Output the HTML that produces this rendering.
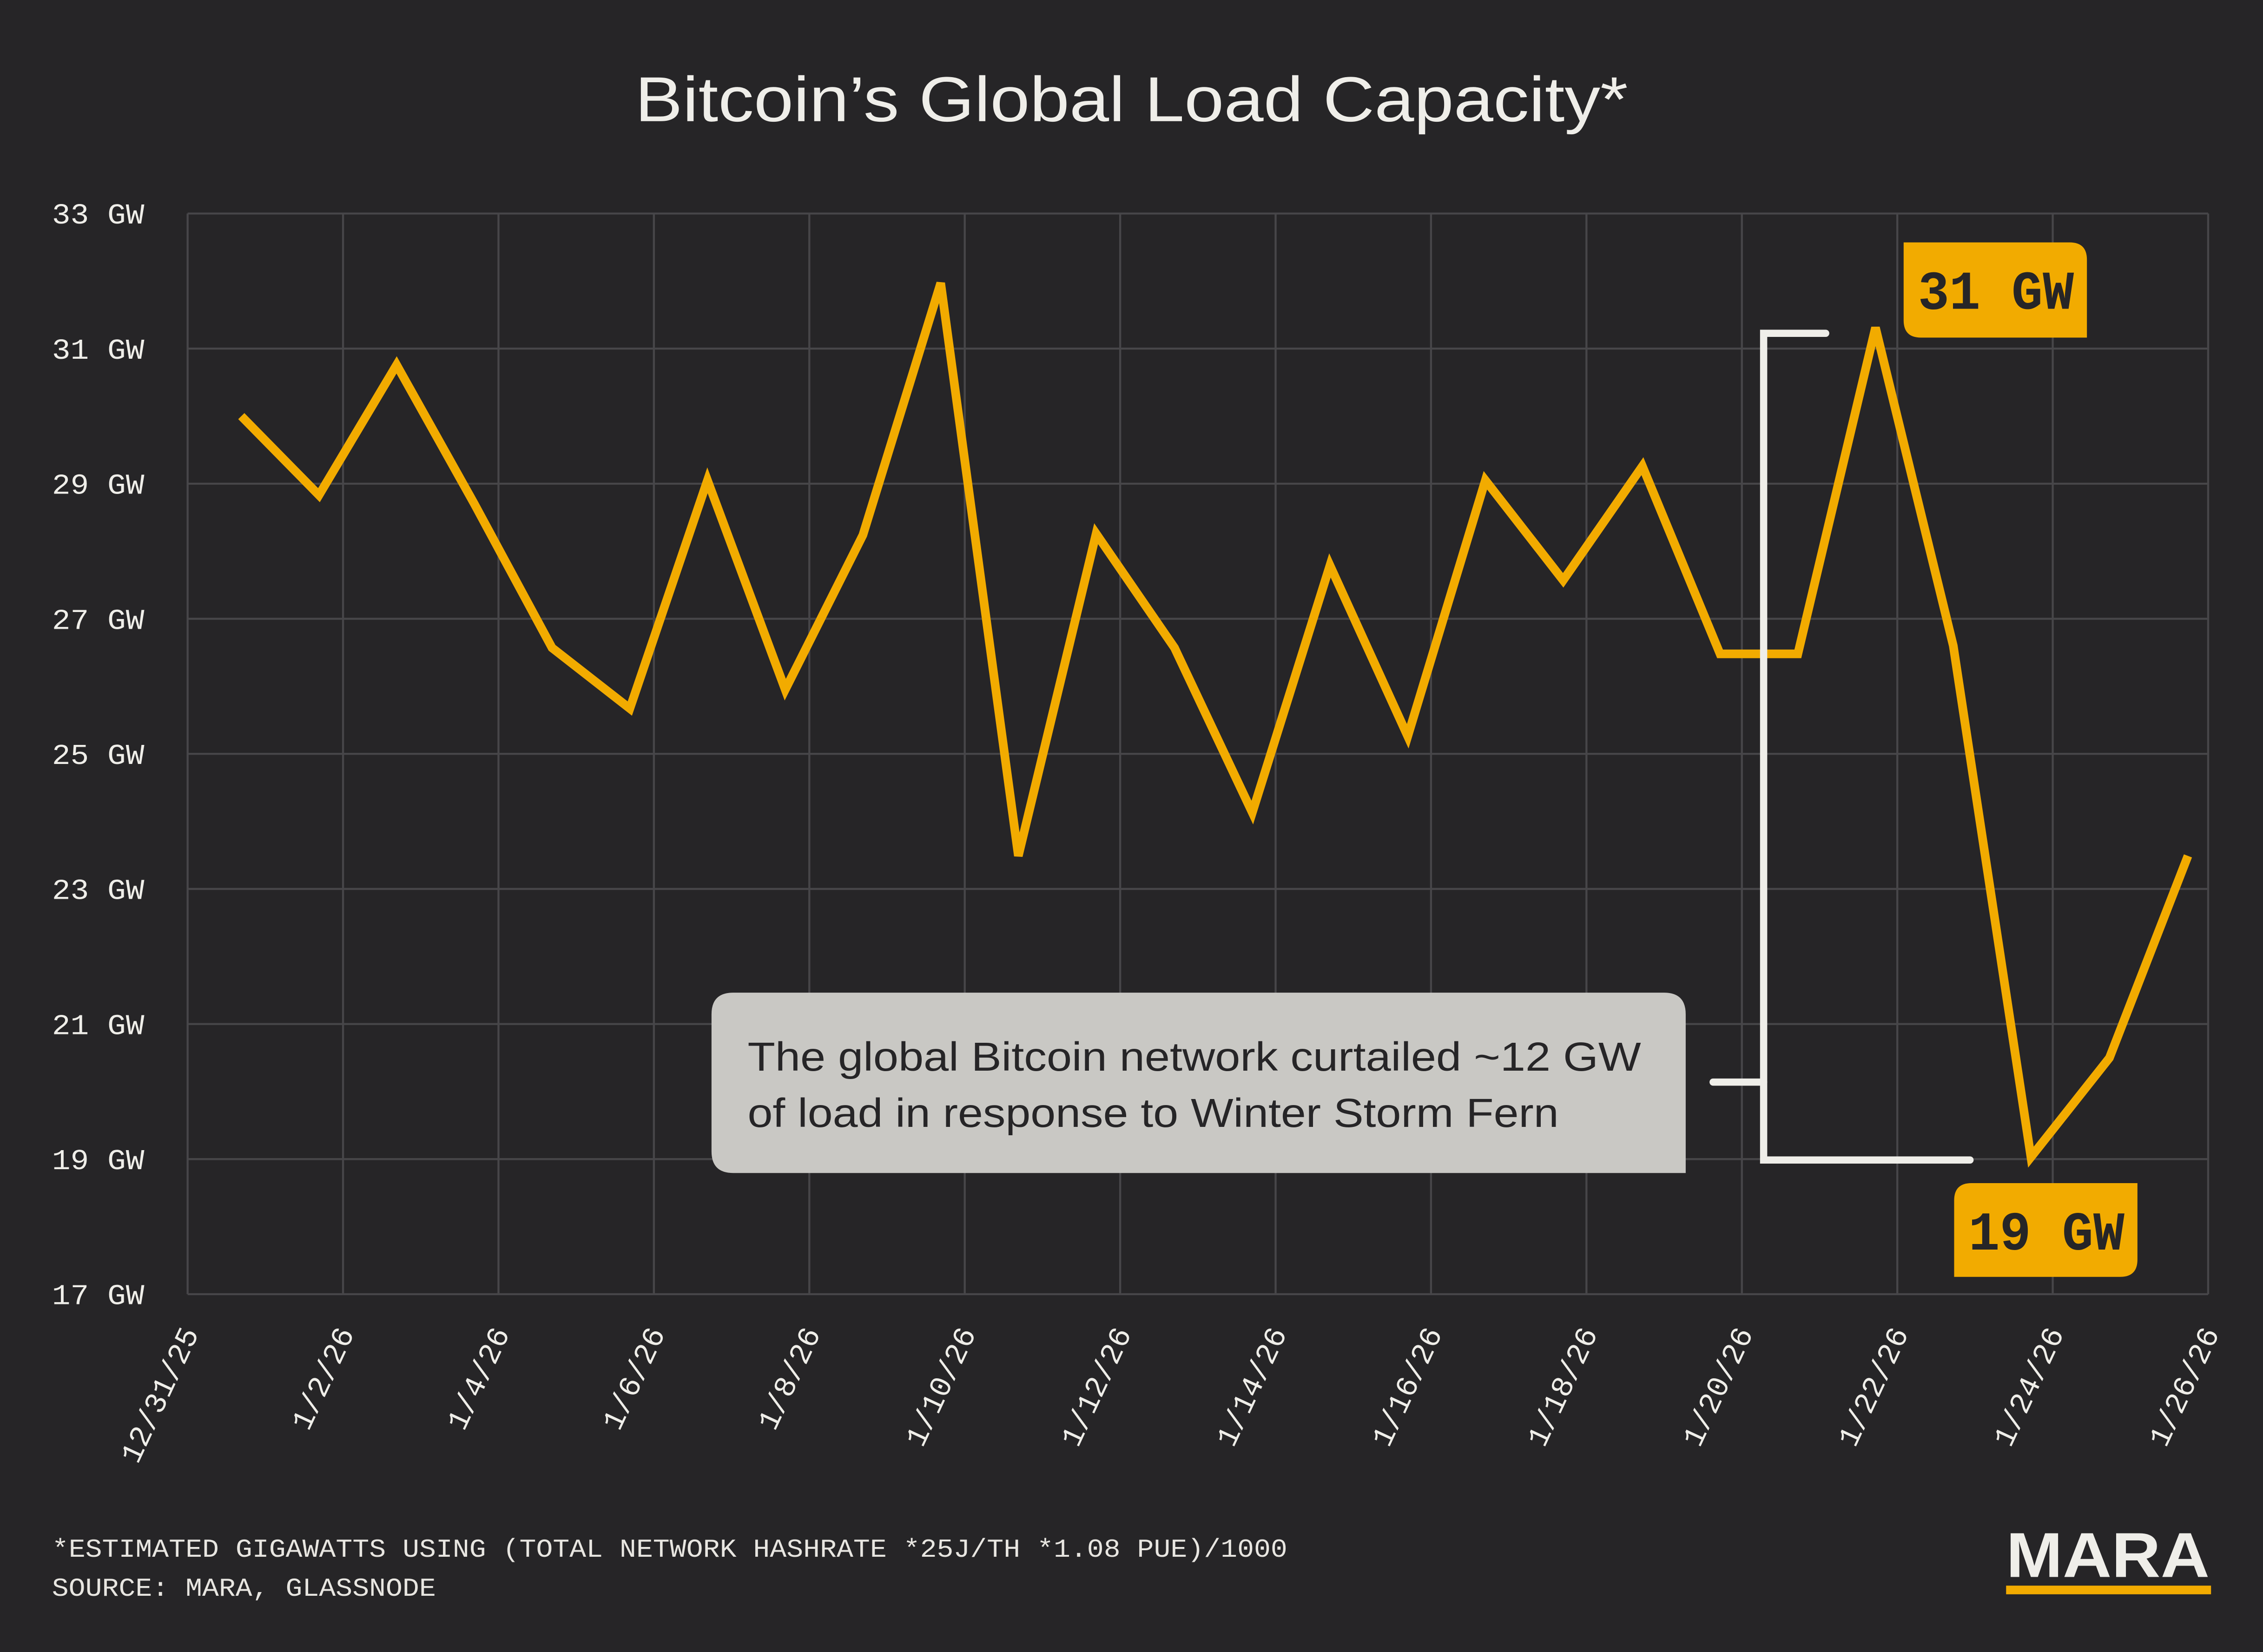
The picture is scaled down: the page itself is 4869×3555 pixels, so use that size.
<!DOCTYPE html>
<html><head><meta charset="utf-8"><style>
html,body{margin:0;padding:0;background:#262527;}
svg{display:block;}
</style></head><body>
<svg width="4869" height="3555" viewBox="0 0 1568 1145" preserveAspectRatio="none" xmlns="http://www.w3.org/2000/svg">
<rect x="0" y="0" width="1568" height="1145" fill="#262527"/>
<text x="440" y="84" font-family="Liberation Sans, sans-serif" font-size="44" textLength="688" lengthAdjust="spacingAndGlyphs" fill="#efeee9">Bitcoin’s Global Load Capacity*</text>
<g id="grid"></g>
<g id="yticks"></g>
<g id="xticks"></g>
<path id="line" fill="none" stroke="#f2ab00" stroke-width="6" stroke-linejoin="miter"/>
<g stroke="#efeee9" stroke-width="5" stroke-linecap="round" fill="none">
<path d="M1265 231 H1222 V804 H1365"/>
<path d="M1187 750 H1222"/>
</g>
<path d="M508 688 H1153 Q1168 688 1168 703 V813 H508 Q493 813 493 798 V703 Q493 688 508 688 Z" fill="#c9c8c4"/>
<text font-family="Liberation Sans, sans-serif" font-size="28" fill="#262527"><tspan x="518" y="742" textLength="619" lengthAdjust="spacingAndGlyphs">The global Bitcoin network curtailed ~12 GW</tspan><tspan x="518" y="781" textLength="562" lengthAdjust="spacingAndGlyphs">of load in response to Winter Storm Fern</tspan></text>
<path d="M1319 168 H1434 Q1446 168 1446 180 V234 H1331 Q1319 234 1319 222 Z" fill="#f2ab00"/>
<text x="1329" y="214" font-family="Liberation Mono, monospace" font-weight="bold" font-size="38" textLength="108" lengthAdjust="spacingAndGlyphs" fill="#262527">31 GW</text>
<path d="M1366 820 H1481 V873 Q1481 885 1469 885 H1354 V832 Q1354 820 1366 820 Z" fill="#f2ab00"/>
<text x="1364" y="866" font-family="Liberation Mono, monospace" font-weight="bold" font-size="38" textLength="108" lengthAdjust="spacingAndGlyphs" fill="#262527">19 GW</text>
<text font-family="Liberation Mono, monospace" font-size="18" fill="#e8e6e1"><tspan x="36" y="1079" textLength="856" lengthAdjust="spacingAndGlyphs">*ESTIMATED GIGAWATTS USING (TOTAL NETWORK HASHRATE *25J/TH *1.08 PUE)/1000</tspan><tspan x="36" y="1106" textLength="266" lengthAdjust="spacingAndGlyphs">SOURCE: MARA, GLASSNODE</tspan></text>
<text x="1390" y="1093" font-family="Liberation Sans, sans-serif" font-weight="bold" font-size="44" textLength="141" lengthAdjust="spacingAndGlyphs" fill="#efeee9">MARA</text>
<rect x="1390" y="1099" width="142" height="6" fill="#f2ab00"/>
</svg>
<script>
const tickLabels = ["12/31/25","1/2/26","1/4/26","1/6/26","1/8/26","1/10/26","1/12/26","1/14/26","1/16/26","1/18/26","1/20/26","1/22/26","1/24/26","1/26/26"];
const yTicks = [17,19,21,23,25,27,29,31,33];
const dayOffsets = [0.69,1.69,2.69,3.69,4.69,5.69,6.69,7.69,8.69,9.69,10.69,11.69,12.7,13.7,14.7,15.7,16.7,17.7,18.72,19.72,20.72,21.72,22.72,23.72,24.73,25.74];
const loadGW = [30.0,28.83,30.76,28.7,26.57,25.67,29.05,25.95,28.24,31.97,23.49,28.26,26.57,24.13,27.79,25.26,29.05,27.57,29.26,26.48,26.48,31.31,26.6,19.03,20.5,23.49];

const NS="http://www.w3.org/2000/svg";
const L=130,R=1530,T=148,B=897;
const xS=d=>L+(d/26)*(R-L);
const yS=v=>B-(v-17)/(33-17)*(B-T);
const grid=document.getElementById('grid');
function mk(tag,attrs,parent){const e=document.createElementNS(NS,tag);for(const k in attrs)e.setAttribute(k,attrs[k]);parent.appendChild(e);return e;}
yTicks.forEach(v=>{
  const ln=mk('line',{x1:L,x2:R,y1:yS(v),y2:yS(v),stroke:'#474649','stroke-width':1.4},grid);
  
  
  const t=mk('text',{x:100,y:yS(v)+7,'text-anchor':'end','font-family':'Liberation Mono, monospace','font-size':20,fill:'#efeee9',textLength:64,lengthAdjust:'spacingAndGlyphs'},document.getElementById('yticks'));
  t.textContent=v+' GW';
  
  
});
tickLabels.forEach((lab,i)=>{
  const x=xS(i*2);
  const ln=mk('line',{x1:x,x2:x,y1:T,y2:B,stroke:'#474649','stroke-width':1.4},grid);
  
  
  const t=mk('text',{x:0,y:0,'text-anchor':'end','font-family':'Liberation Mono, monospace','font-size':21,fill:'#efeee9',transform:`translate(${x+8},${924}) rotate(-65)`},document.getElementById('xticks'));
  t.textContent=lab;
  
  
});
document.getElementById('line').setAttribute('d',loadGW.map((v,i)=>(i?'L':'M')+xS(dayOffsets[i]).toFixed(1)+' '+yS(v).toFixed(1)).join(' '));
</script>
</body></html>
